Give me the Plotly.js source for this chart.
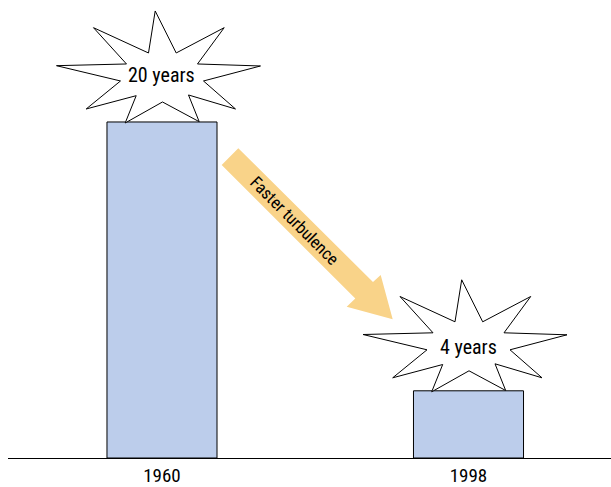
<!DOCTYPE html>
<html>
<head>
<meta charset="utf-8">
<script src="https://cdn.plot.ly/plotly-3.0.1.min.js"></script>
<style>html,body{margin:0;padding:0;background:#fff;}#chart{width:611px;height:487px;}</style>
</head>
<body>
<div id="chart"></div>
<script>
// Data
const years = ["1960", "1998"];
const durations = [20, 4];
const durationLabels = ["20 years", "4 years"];
const trendLabel = "Faster turbulence";

const FONT = "'Liberation Sans Narrow', 'Roboto Condensed', 'DejaVu Sans Condensed', 'Arial Narrow', sans-serif";
const xIdx = years.map((_, i) => i);

// star outline geometry (pixel offsets from bar top centre, y up)
const starPts = [[-6.8,111],[14.2,69],[62.2,94.3],[35.5,58],[98.5,56],[41.5,41],[73.5,13],[26.5,27],[37.2,0.3],[0.5,20],[-36.8,-1],[-25.8,26.3],[-75.8,13],[-41.5,41],[-105.5,56.3],[-35.5,58],[-68.5,94.3],[-13.5,69]];
// arrow geometry (pixel offsets from first bar top centre, y up)
const arrowPts = [[59.7,-43],[76.3,-26.3],[211,-160],[218.7,-153],[230.7,-197.3],[184.7,-184.7],[193.3,-176.6]];

function pathOf(pts){
  return pts.map((p,i)=>(i?'L':'M')+p[0]+','+p[1]).join(' ')+' Z';
}

const shapes = [];
xIdx.forEach((x,i)=>{
  shapes.push({type:'path', layer:'above', xref:'x', yref:'y', xsizemode:'pixel', ysizemode:'pixel',
    xanchor:x, yanchor:durations[i], path:pathOf(starPts),
    fillcolor:'#ffffff', line:{color:'#000000', width:1}});
});
shapes.push({type:'path', layer:'above', xref:'x', yref:'y', xsizemode:'pixel', ysizemode:'pixel',
  xanchor:xIdx[0], yanchor:durations[0], path:pathOf(arrowPts),
  fillcolor:'#f9d389', line:{width:0}});

const annotations = xIdx.map((x,i)=>({
  x:x, y:durations[i], xref:'x', yref:'y', text:durationLabels[i], showarrow:false,
  yshift: i===0 ? 47 : 44, xshift: 0,
  font:{family:FONT, size:20, color:'#000'}
}));
annotations.push({x:xIdx[0], y:durations[0], xref:'x', yref:'y', text:trendLabel, showarrow:false,
  xshift:133, yshift:-99, textangle:45, font:{family:FONT, size:17, color:'#000'}});

const trace = {
  type:'bar', x:xIdx, y:durations, width:0.359,
  marker:{color:'#bccdeb', line:{color:'#000', width:1}},
  hoverinfo:'skip'
};

const layout = {
  width:611, height:487,
  margin:{l:8, r:0, t:0, b:29, pad:0},
  paper_bgcolor:'#fff', plot_bgcolor:'#fff',
  showlegend:false,
  xaxis:{range:[-0.5024,1.4649], tickvals:xIdx, ticktext:years, showline:true, linecolor:'#000', linewidth:1,
    showgrid:false, zeroline:false, ticks:'', ticklen:0,
    tickfont:{family:FONT, size:19, color:'#000'}, fixedrange:true},
  yaxis:{range:[0,27.26], visible:false, showgrid:false, zeroline:false, fixedrange:true},
  shapes:shapes, annotations:annotations
};

Plotly.newPlot('chart', [trace], layout, {displayModeBar:false, staticPlot:true});
</script>
</body>
</html>
